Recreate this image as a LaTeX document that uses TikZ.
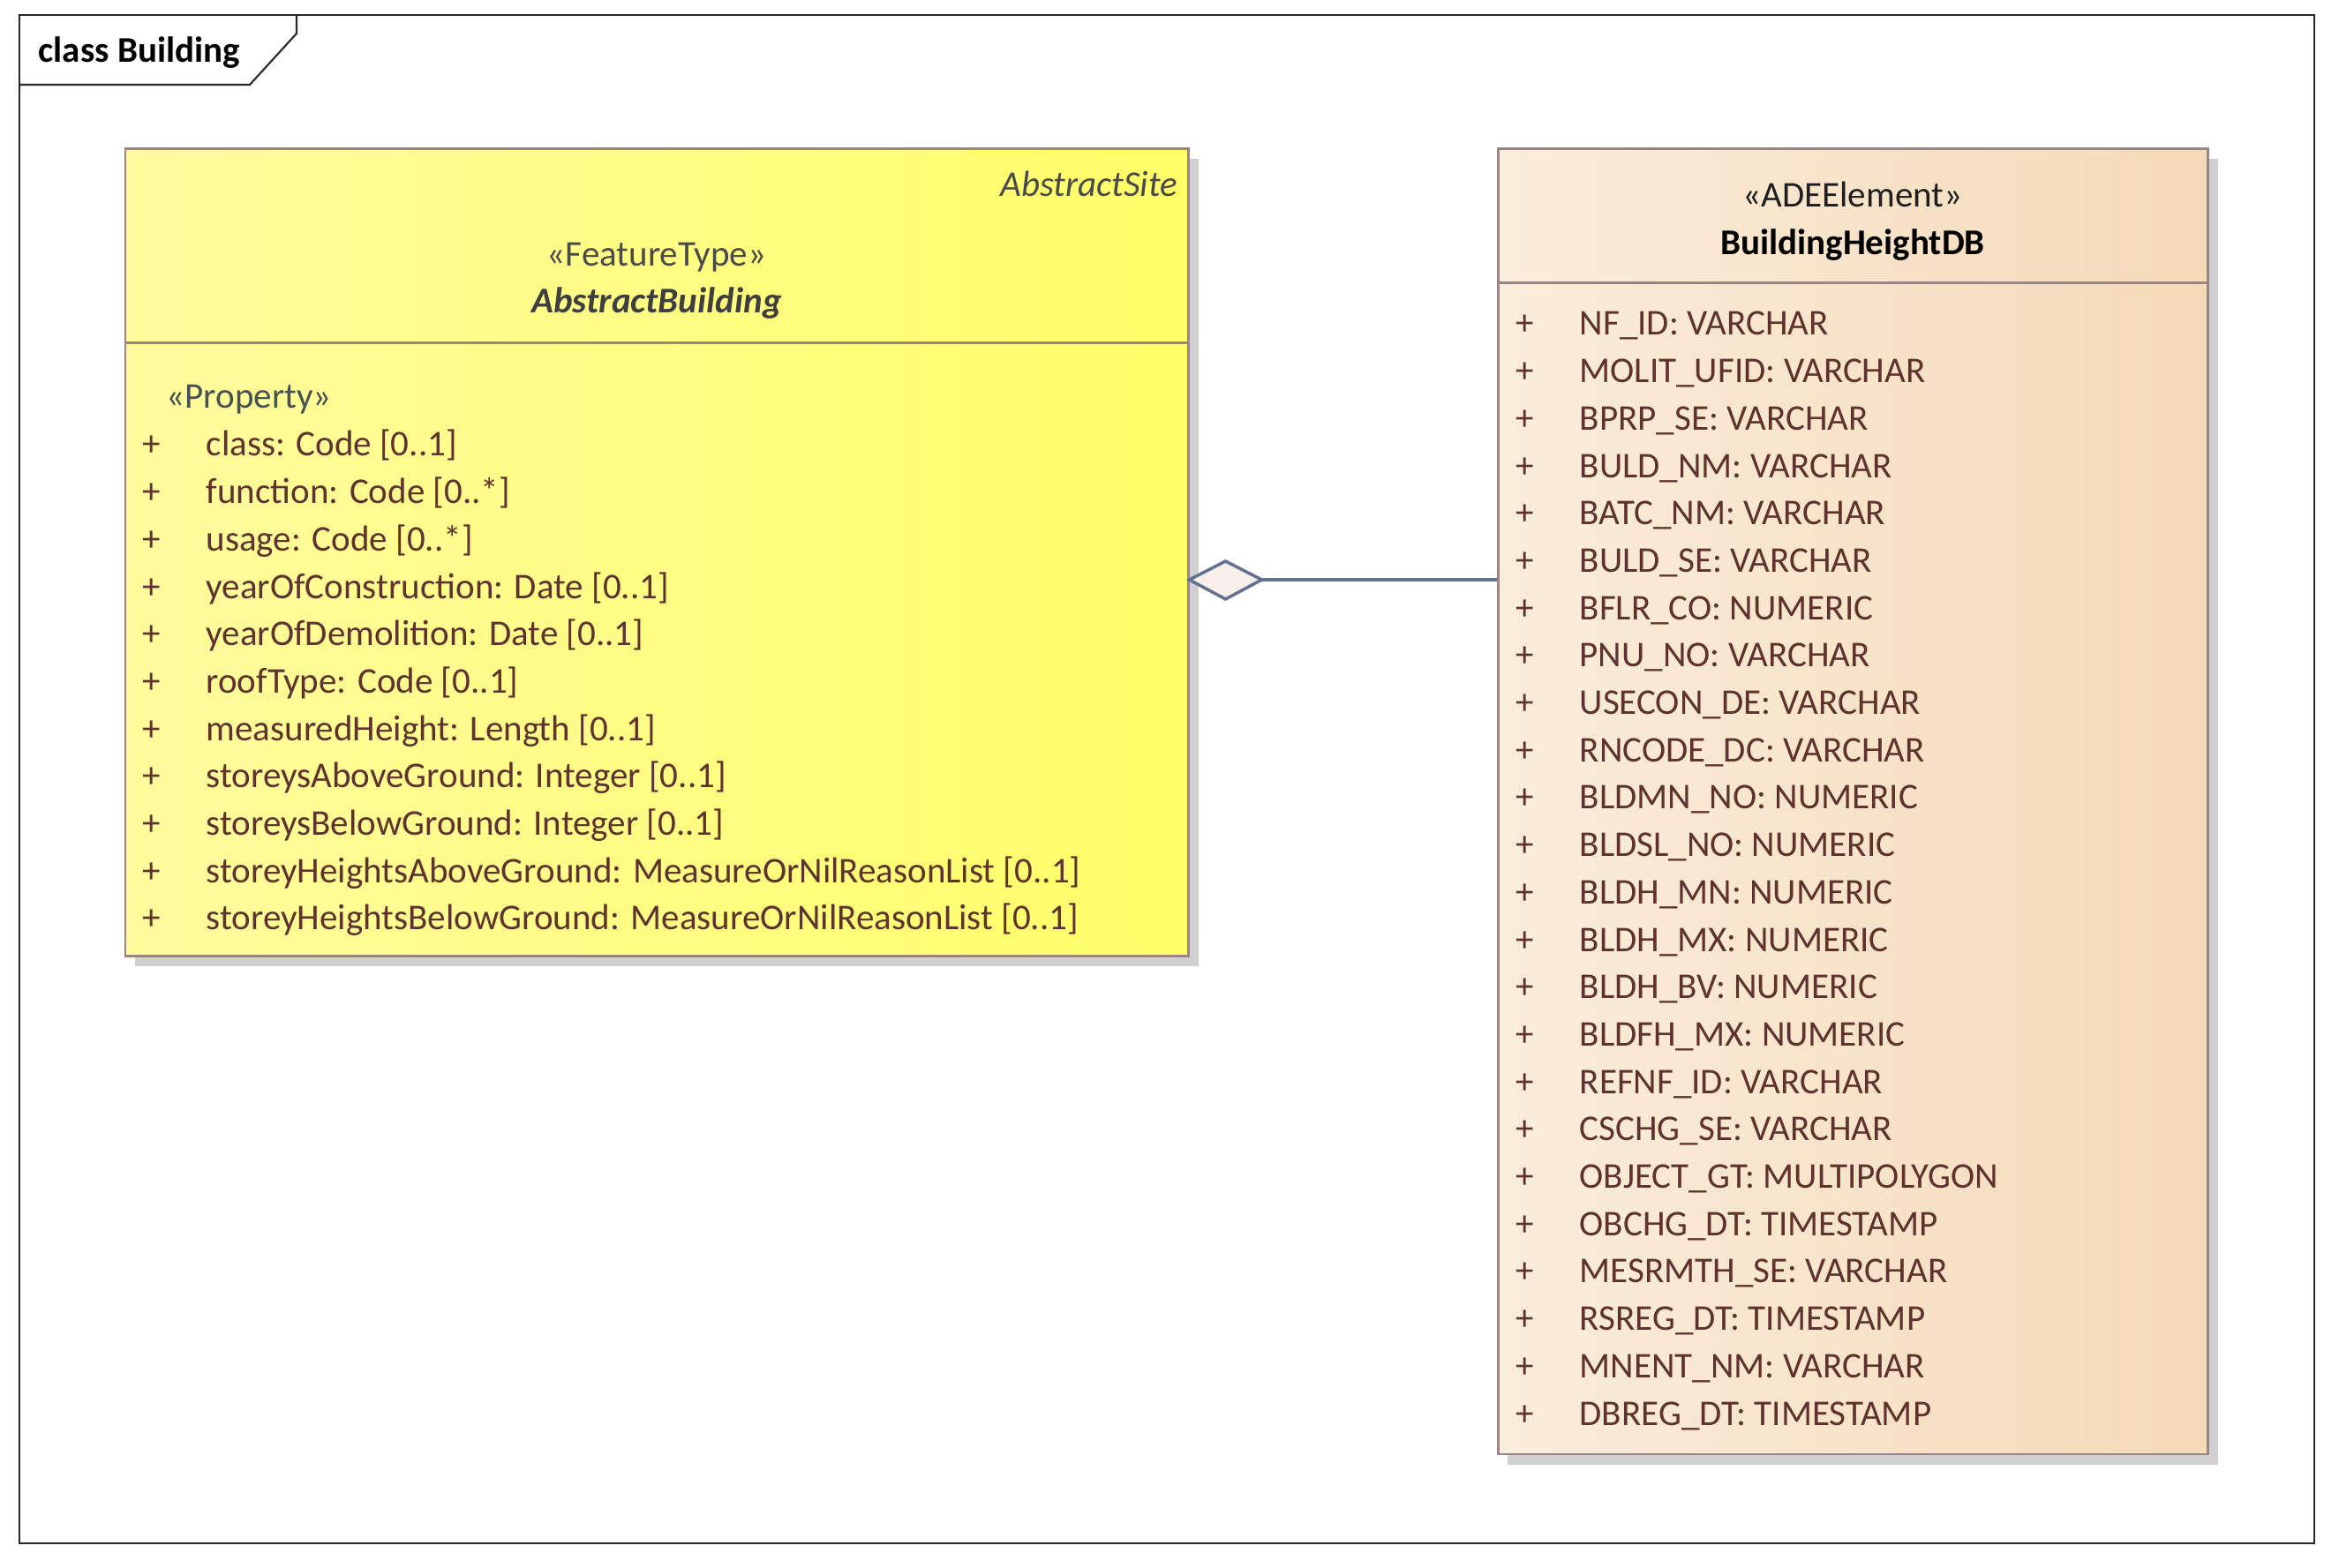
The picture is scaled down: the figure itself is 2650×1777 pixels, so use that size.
\documentclass[tikz,border=0pt]{standalone}
\usepackage{fontspec}
\setmainfont{Carlito}
\usetikzlibrary{fit,calc}
\definecolor{yla}{RGB}{255,251,158}
\definecolor{ylb}{RGB}{255,255,104}
\definecolor{ora}{RGB}{250,237,219}
\definecolor{orb}{RGB}{245,218,184}
\definecolor{bord}{RGB}{155,132,132}
\definecolor{attr}{RGB}{95,50,45}
\definecolor{ster}{RGB}{70,82,82}
\definecolor{hdr}{RGB}{74,74,74}
\definecolor{shad}{RGB}{208,208,208}
\definecolor{conn}{RGB}{100,114,145}
\definecolor{dfill}{RGB}{250,240,235}
\definecolor{frm}{RGB}{40,40,40}
\tikzset{
  txt/.style={inner sep=0pt, font=\fontsize{11.67}{14}\selectfont},
  attrtxt/.style={txt, text=attr, anchor=base west},
  plus/.style={txt, text=attr, anchor=base},
  boxline/.style={draw=bord, line width=0.85pt},
  shadowbox/.style={fill=shad, draw=none},
  connline/.style={draw=conn, line width=1pt},
  framepen/.style={draw=frm, line width=0.6pt},
}
\begin{document}
\begin{tikzpicture}[x=0.01cm, y=-0.01cm]
\useasboundingbox (0,0) rectangle (2650,1777);
% frame
\draw[framepen] (22,17) rectangle (2622,1749);
\draw[framepen] (22,96) -- (283,96) -- (336,38) -- (336,17);
\node[txt, anchor=base west, font=\fontsize{11.67}{14}\selectfont\bfseries] (title) at (43,71) {class Building};
% shadows
\fill[shadowbox] (153,180) rectangle (1358,1095);
\fill[shadowbox] (1708,180) rectangle (2513,1660);
% box corners
\coordinate (L1) at (142,169);
\coordinate (L2) at (1346,1084);
\coordinate (R1) at (1697,169);
\coordinate (R2) at (2501,1648);
\node[fit=(L1)(L2), inner sep=0pt, boxline, left color=yla, right color=ylb] (L) {};
\node[fit=(R1)(R2), inner sep=0pt, boxline, left color=ora, right color=orb] (R) {};
\coordinate (ldiv) at (0,389);
\coordinate (rdiv) at (0,321);
\draw[boxline] (L.west |- ldiv) -- (L.east |- ldiv);
\draw[boxline] (R.west |- rdiv) -- (R.east |- rdiv);
% left header
\node[txt, anchor=base east, text=hdr, font=\fontsize{11.67}{14}\selectfont\itshape] (asite) at (1335,223) {AbstractSite};
\node[txt, anchor=base, text=hdr] (ftype) at (744,302) {«FeatureType»};
\node[txt, anchor=base, text=hdr!85!black, font=\fontsize{11.67}{14}\selectfont\bfseries\itshape] (abld) at (744,355) {AbstractBuilding};
\node[txt, anchor=base west, text=ster] (prop) at (188,463) {«Property»};
\foreach \t [count=\i from 0] in {
  class: Code [0..1],
  function: Code [0..*],
  usage: Code [0..*],
  yearOfConstruction: Date [0..1],
  yearOfDemolition: Date [0..1],
  roofType: Code [0..1],
  measuredHeight: Length [0..1],
  storeysAboveGround: Integer [0..1],
  storeysBelowGround: Integer [0..1],
  storeyHeightsAboveGround: MeasureOrNilReasonList [0..1],
  storeyHeightsBelowGround: MeasureOrNilReasonList [0..1]}{
  \node[plus] (lp\i) at (172,{517+53.7*\i}) {+};
  \node[attrtxt] (la\i) at (233,{517+53.7*\i}) {\t};
}
% right header
\node[txt, anchor=base, text=black!88] (ade) at (2099,235) {«ADEElement»};
\node[txt, anchor=base, text=black, font=\fontsize{11.67}{14}\selectfont\bfseries] (bhdb) at (2099,289) {BuildingHeightDB};
\foreach \t [count=\i from 0] in {
  NF\_ID: VARCHAR,
  MOLIT\_UFID: VARCHAR,
  BPRP\_SE: VARCHAR,
  BULD\_NM: VARCHAR,
  BATC\_NM: VARCHAR,
  BULD\_SE: VARCHAR,
  BFLR\_CO: NUMERIC,
  PNU\_NO: VARCHAR,
  USECON\_DE: VARCHAR,
  RNCODE\_DC: VARCHAR,
  BLDMN\_NO: NUMERIC,
  BLDSL\_NO: NUMERIC,
  BLDH\_MN: NUMERIC,
  BLDH\_MX: NUMERIC,
  BLDH\_BV: NUMERIC,
  BLDFH\_MX: NUMERIC,
  REFNF\_ID: VARCHAR,
  CSCHG\_SE: VARCHAR,
  OBJECT\_GT: MULTIPOLYGON,
  OBCHG\_DT: TIMESTAMP,
  MESRMTH\_SE: VARCHAR,
  RSREG\_DT: TIMESTAMP,
  MNENT\_NM: VARCHAR,
  DBREG\_DT: TIMESTAMP}{
  \node[plus] (rp\i) at (1728,{380+53.7*\i}) {+};
  \node[attrtxt] (ra\i) at (1789,{380+53.7*\i}) {\t};
}
% aggregation connector
\coordinate (cy) at (0,657);
\coordinate (dtip) at (L.east |- cy);
\coordinate (dend) at ($(dtip)+(82,0)$);
\draw[connline, fill=dfill, line join=miter] (dtip) -- ++(41,-21) -- (dend) -- ++(-41,22) -- cycle;
\draw[connline] (dend) -- (R.west |- cy);
\end{tikzpicture}
\end{document}
